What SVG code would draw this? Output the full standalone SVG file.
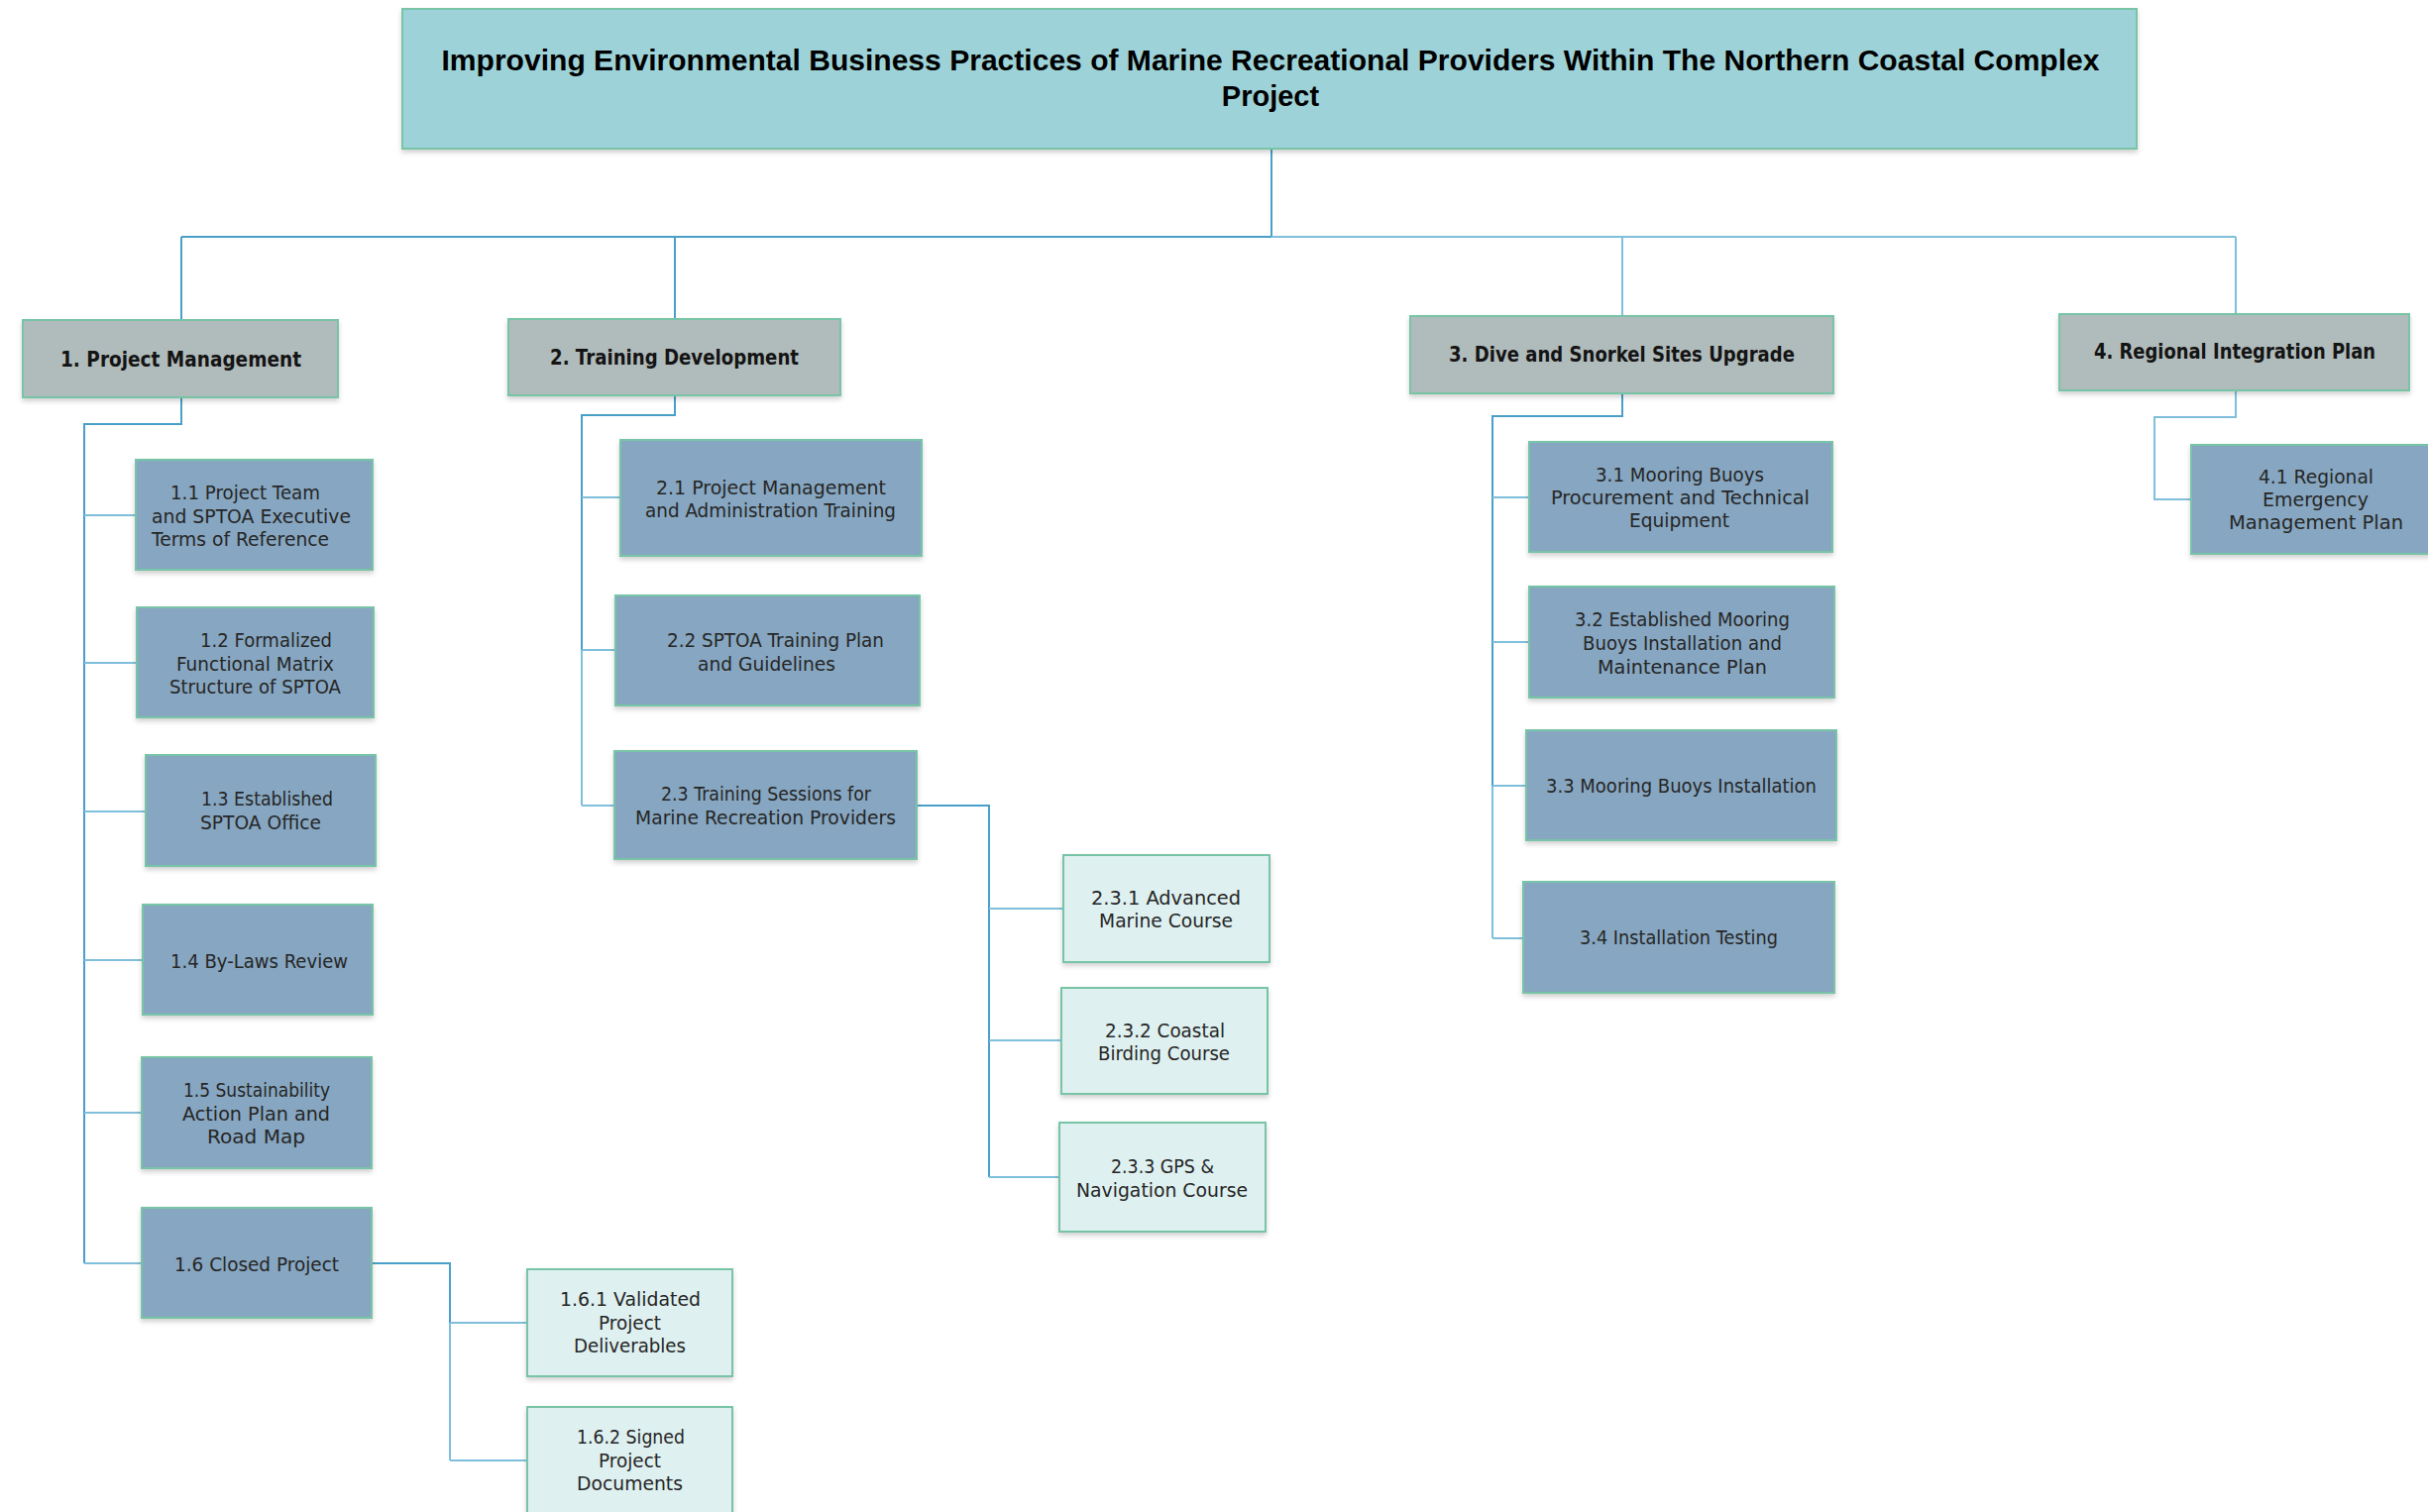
<svg xmlns="http://www.w3.org/2000/svg" width="2450" height="1526" viewBox="0 0 2450 1526">
  <defs>
    <filter id="shadow" x="-5%" y="-5%" width="110%" height="120%">
      <feDropShadow dx="0" dy="3" stdDeviation="2.5" flood-color="#000" flood-opacity="0.18"/>
    </filter>
    <style>
      .box { stroke: #78c4a6; stroke-width: 2; filter: url(#shadow); }
      .root { fill: #9dd3d8; }
      .l1 { fill: #b0bbbb; }
      .l2 { fill: #86a6c1; }
      .l3 { fill: #def0f0; }
      .title { font-family: "Liberation Sans", Arial, sans-serif; font-weight: bold; font-size: 29px; fill: #000; text-anchor: middle; }
      .h1 { font-family: "DejaVu Sans", "Noto Sans", sans-serif; font-weight: bold; font-size: 21px; fill: #141414; text-anchor: middle; }
      .t { font-family: "DejaVu Sans", "Noto Sans", sans-serif; font-size: 20px; fill: #262626; text-anchor: middle; }
      .c { fill: none; stroke: #4a9fc9; stroke-width: 2; }
      .cl { fill: none; stroke: #7fbfdb; stroke-width: 2; }
    </style>
  </defs>
  <rect width="2450" height="1526" fill="#fff"/>

  <!-- connectors -->
  <g id="connectors">
    <path class="c" d="M1283,150 V239"/>
    <path class="c" d="M183,239 H1283"/>
    <path class="cl" d="M1283,239 H2256"/>
    <path class="c" d="M183,239 V323"/>
    <path class="c" d="M681,239 V322"/>
    <path class="cl" d="M1637,239 V319"/>
    <path class="cl" d="M2256,239 V317"/>

    <!-- 1. Project Management branch -->
    <path class="c" d="M183,401 V428 H85 V1275"/>
    <path class="cl" d="M85,520 H137 M85,669 H138 M85,819 H147 M85,969 H144 M85,1123 H143 M85,1275 H143"/>
    <path class="c" d="M375,1275 H454 V1335"/>
    <path class="cl" d="M454,1335 V1474 M454,1335 H532 M454,1474 H532"/>

    <!-- 2. Training Development branch -->
    <path class="c" d="M681,399 V419 H587 V656"/>
    <path class="cl" d="M587,656 V813 M587,502 H626 M587,656 H621 M587,813 H620"/>
    <path class="c" d="M925,813 H998 V1188"/>
    <path class="cl" d="M998,917 H1073 M998,1050 H1071 M998,1188 H1069"/>

    <!-- 3. Dive and Snorkel Sites Upgrade branch -->
    <path class="c" d="M1637,397 V420 H1506 V793"/>
    <path class="cl" d="M1506,793 V947 M1506,502 H1543 M1506,648 H1543 M1506,793 H1540 M1506,947 H1537"/>

    <!-- 4. Regional Integration Plan branch -->
    <path class="cl" d="M2256,394 V421 H2174 V504 H2211"/>
  </g>

  <!-- root -->
  <g id="root">
    <rect class="box root" x="406" y="9" width="1750" height="141"/>
    <text class="title" x="1282" y="71" textLength="1673" lengthAdjust="spacingAndGlyphs">Improving Environmental Business Practices of Marine Recreational Providers Within The Northern Coastal Complex</text>
    <text class="title" x="1282" y="107">Project</text>
  </g>

  <!-- level 1 -->
  <g id="n1">
    <rect class="box l1" x="23" y="323" width="318" height="78"/>
    <text class="h1" x="182.5" y="370" textLength="243" lengthAdjust="spacingAndGlyphs">1. Project Management</text>
  </g>
  <g id="n2">
    <rect class="box l1" x="513" y="322" width="335" height="77"/>
    <text class="h1" x="680.5" y="368" textLength="251" lengthAdjust="spacingAndGlyphs">2. Training Development</text>
  </g>
  <g id="n3">
    <rect class="box l1" x="1423" y="319" width="427" height="78"/>
    <text class="h1" x="1636.5" y="365" textLength="349" lengthAdjust="spacingAndGlyphs">3. Dive and Snorkel Sites Upgrade</text>
  </g>
  <g id="n4">
    <rect class="box l1" x="2078" y="317" width="353" height="77"/>
    <text class="h1" x="2255" y="362" textLength="284" lengthAdjust="spacingAndGlyphs">4. Regional Integration Plan</text>
  </g>

  <!-- 1.x -->
  <g id="n1-1">
    <rect class="box l2" x="137" y="464" width="239" height="111"/>
    <text class="t" x="247.5" y="504" textLength="151" lengthAdjust="spacingAndGlyphs">1.1 Project Team</text>
    <text class="t" x="253.5" y="528" textLength="201" lengthAdjust="spacingAndGlyphs">and SPTOA Executive</text>
    <text class="t" x="242.5" y="551" textLength="179" lengthAdjust="spacingAndGlyphs">Terms of Reference</text>
  </g>
  <g id="n1-2">
    <rect class="box l2" x="138" y="613" width="239" height="111"/>
    <text class="t" x="268.5" y="653" textLength="133" lengthAdjust="spacingAndGlyphs">1.2 Formalized</text>
    <text class="t" x="257.5" y="677" textLength="159" lengthAdjust="spacingAndGlyphs">Functional Matrix</text>
    <text class="t" x="257.5" y="700" textLength="173" lengthAdjust="spacingAndGlyphs">Structure of SPTOA</text>
  </g>
  <g id="n1-3">
    <rect class="box l2" x="147" y="762" width="232" height="112"/>
    <text class="t" x="269.5" y="813" textLength="133" lengthAdjust="spacingAndGlyphs">1.3 Established</text>
    <text class="t" x="263" y="837" textLength="122" lengthAdjust="spacingAndGlyphs">SPTOA Office</text>
  </g>
  <g id="n1-4">
    <rect class="box l2" x="144" y="913" width="232" height="111"/>
    <text class="t" x="261.5" y="977" textLength="179" lengthAdjust="spacingAndGlyphs">1.4 By-Laws Review</text>
  </g>
  <g id="n1-5">
    <rect class="box l2" x="143" y="1067" width="232" height="112"/>
    <text class="t" x="259" y="1107" textLength="148" lengthAdjust="spacingAndGlyphs">1.5 Sustainability</text>
    <text class="t" x="258.5" y="1131" textLength="149" lengthAdjust="spacingAndGlyphs">Action Plan and</text>
    <text class="t" x="258.5" y="1154" textLength="99" lengthAdjust="spacingAndGlyphs">Road Map</text>
  </g>
  <g id="n1-6">
    <rect class="box l2" x="143" y="1219" width="232" height="111"/>
    <text class="t" x="259" y="1283" textLength="166" lengthAdjust="spacingAndGlyphs">1.6 Closed Project</text>
  </g>
  <g id="n1-6-1">
    <rect class="box l3" x="532" y="1281" width="207" height="108"/>
    <text class="t" x="636" y="1318" textLength="142" lengthAdjust="spacingAndGlyphs">1.6.1 Validated</text>
    <text class="t" x="635.5" y="1342" textLength="63" lengthAdjust="spacingAndGlyphs">Project</text>
    <text class="t" x="635.5" y="1365" textLength="113" lengthAdjust="spacingAndGlyphs">Deliverables</text>
  </g>
  <g id="n1-6-2">
    <rect class="box l3" x="532" y="1420" width="207" height="120"/>
    <text class="t" x="636.5" y="1457" textLength="109" lengthAdjust="spacingAndGlyphs">1.6.2 Signed</text>
    <text class="t" x="635.5" y="1481" textLength="63" lengthAdjust="spacingAndGlyphs">Project</text>
    <text class="t" x="635.5" y="1504" textLength="107" lengthAdjust="spacingAndGlyphs">Documents</text>
  </g>

  <!-- 2.x -->
  <g id="n2-1">
    <rect class="box l2" x="626" y="444" width="304" height="117"/>
    <text class="t" x="778" y="499" textLength="232" lengthAdjust="spacingAndGlyphs">2.1 Project Management</text>
    <text class="t" x="777.5" y="522" textLength="253" lengthAdjust="spacingAndGlyphs">and Administration Training</text>
  </g>
  <g id="n2-2">
    <rect class="box l2" x="621" y="601" width="307" height="111"/>
    <text class="t" x="782.5" y="653" textLength="219" lengthAdjust="spacingAndGlyphs">2.2  SPTOA Training Plan</text>
    <text class="t" x="773.5" y="677" textLength="139" lengthAdjust="spacingAndGlyphs">and Guidelines</text>
  </g>
  <g id="n2-3">
    <rect class="box l2" x="620" y="758" width="305" height="109"/>
    <text class="t" x="773" y="808" textLength="212" lengthAdjust="spacingAndGlyphs">2.3 Training Sessions for</text>
    <text class="t" x="772.5" y="832" textLength="263" lengthAdjust="spacingAndGlyphs">Marine Recreation Providers</text>
  </g>
  <g id="n2-3-1">
    <rect class="box l3" x="1073" y="863" width="208" height="108"/>
    <text class="t" x="1176.5" y="913" textLength="151" lengthAdjust="spacingAndGlyphs">2.3.1 Advanced</text>
    <text class="t" x="1176.5" y="936" textLength="135" lengthAdjust="spacingAndGlyphs">Marine Course</text>
  </g>
  <g id="n2-3-2">
    <rect class="box l3" x="1071" y="997" width="208" height="107"/>
    <text class="t" x="1175.5" y="1047" textLength="121" lengthAdjust="spacingAndGlyphs">2.3.2 Coastal</text>
    <text class="t" x="1174.5" y="1070" textLength="133" lengthAdjust="spacingAndGlyphs">Birding Course</text>
  </g>
  <g id="n2-3-3">
    <rect class="box l3" x="1069" y="1133" width="208" height="110"/>
    <text class="t" x="1173" y="1184" textLength="104" lengthAdjust="spacingAndGlyphs">2.3.3 GPS &amp;</text>
    <text class="t" x="1172.5" y="1208" textLength="173" lengthAdjust="spacingAndGlyphs">Navigation Course</text>
  </g>

  <!-- 3.x -->
  <g id="n3-1">
    <rect class="box l2" x="1543" y="446" width="306" height="111"/>
    <text class="t" x="1695" y="486" textLength="170" lengthAdjust="spacingAndGlyphs">3.1 Mooring Buoys</text>
    <text class="t" x="1695.5" y="509" textLength="261" lengthAdjust="spacingAndGlyphs">Procurement and Technical</text>
    <text class="t" x="1694.5" y="532" textLength="101" lengthAdjust="spacingAndGlyphs">Equipment</text>
  </g>
  <g id="n3-2">
    <rect class="box l2" x="1543" y="592" width="308" height="112"/>
    <text class="t" x="1697.5" y="632" textLength="217" lengthAdjust="spacingAndGlyphs">3.2 Established Mooring</text>
    <text class="t" x="1697.5" y="656" textLength="201" lengthAdjust="spacingAndGlyphs">Buoys Installation and</text>
    <text class="t" x="1697.5" y="680" textLength="171" lengthAdjust="spacingAndGlyphs">Maintenance Plan</text>
  </g>
  <g id="n3-3">
    <rect class="box l2" x="1540" y="737" width="313" height="111"/>
    <text class="t" x="1696.5" y="800" textLength="273" lengthAdjust="spacingAndGlyphs">3.3 Mooring Buoys Installation</text>
  </g>
  <g id="n3-4">
    <rect class="box l2" x="1537" y="890" width="314" height="112"/>
    <text class="t" x="1694" y="953" textLength="200" lengthAdjust="spacingAndGlyphs">3.4 Installation Testing</text>
  </g>

  <!-- 4.x -->
  <g id="n4-1">
    <rect class="box l2" x="2211" y="449" width="250" height="110"/>
    <text class="t" x="2337" y="488" textLength="116" lengthAdjust="spacingAndGlyphs">4.1 Regional</text>
    <text class="t" x="2336.5" y="511" textLength="107" lengthAdjust="spacingAndGlyphs">Emergency</text>
    <text class="t" x="2337" y="534" textLength="176" lengthAdjust="spacingAndGlyphs">Management Plan</text>
  </g>
</svg>
